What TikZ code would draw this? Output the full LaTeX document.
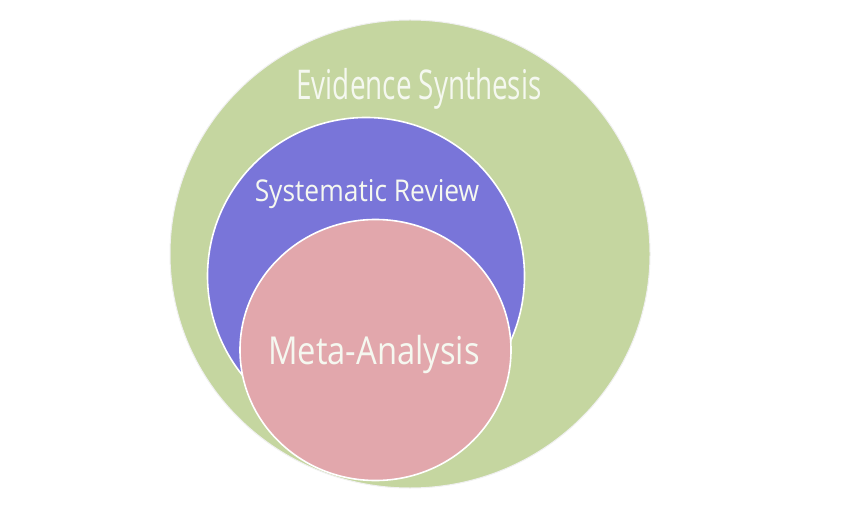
\documentclass[tikz,border=0pt]{standalone}
\usepackage{fontspec}
\newfontfamily\handA[FakeStretch=0.68]{Open Sans}
\newfontfamily\handB[FakeStretch=0.88]{Open Sans}
\newfontfamily\handC[FakeStretch=0.85]{Open Sans}
\definecolor{evgreen}{RGB}{197,214,160}
\definecolor{srblue}{RGB}{121,117,217}
\definecolor{mapink}{RGB}{226,167,172}
\definecolor{txtwhite}{RGB}{245,248,240}
\tikzset{
  circ/.style={line width=1.6pt, draw=white},
  lbl/.style={text=txtwhite, anchor=base, inner sep=0pt}
}
\begin{document}
\begin{tikzpicture}[x=1pt,y=-1pt]
\useasboundingbox (0,0) rectangle (850,510);
\fill[white] (0,0) rectangle (850,510);
\filldraw[fill=evgreen, draw=gray!12, line width=1pt] (410,254) ellipse [x radius=240, y radius=234];
\filldraw[circ, fill=srblue] (366,276) circle [radius=158.5];
\filldraw[circ, fill=mapink] (375.5,350) ellipse [x radius=135.5, y radius=130.5];
\node[lbl, font=\handA\fontsize{41}{45}\selectfont] (es) at (419,100) {Evidence Synthesis};
\node[lbl, font=\handB\fontsize{30}{34}\selectfont] (sr) at (367,202) {Systematic Review};
\node[lbl, font=\handC\fontsize{38.5}{42}\selectfont] (ma) at (374,364) {Meta-Analysis};
\end{tikzpicture}
\end{document}
